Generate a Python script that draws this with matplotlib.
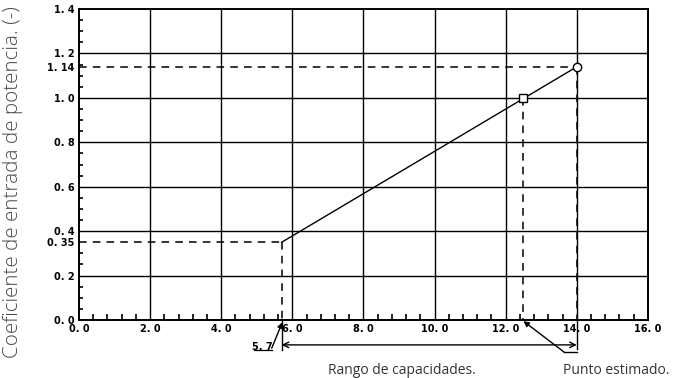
import matplotlib.pyplot as plt
from matplotlib.ticker import MultipleLocator

# datos del grafico
x_ticks = [0, 2, 4, 6, 8, 10, 12, 14, 16]
x_labels = ['0. 0', '2. 0', '4. 0', '6. 0', '8. 0', '10. 0', '12. 0', '14. 0', '16. 0']
y_ticks = [0.0, 0.2, 0.35, 0.4, 0.6, 0.8, 1.0, 1.14, 1.2, 1.4]
y_labels = ['0. 0', '0. 2', '0. 35', '0. 4', '0. 6', '0. 8', '1. 0', '1. 14', '1. 2', '1. 4']

linea_x = [5.7, 14.0]
linea_y = [0.35, 1.14]
punto_est_x = 12.5
punto_est_y = 1.0
x_min_cap = 5.7
x_max_cap = 14.0

fig = plt.figure(figsize=(6.74, 3.78), dpi=100)
ax = fig.add_axes([0.1172, 0.1534, 0.844, 0.8226])

ax.set_xlim(0, 16)
ax.set_ylim(0, 1.4)

# rejilla
for gx in range(2, 16, 2):
    ax.axvline(gx, color='black', lw=1.0, zorder=1)
for gy in [0.2, 0.4, 0.6, 0.8, 1.0, 1.2]:
    ax.axhline(gy, color='black', lw=1.0, zorder=1)

for s in ax.spines.values():
    s.set_linewidth(1.4)

ax.set_xticks(x_ticks)
ax.set_xticklabels(x_labels)
ax.set_yticks(y_ticks)
ax.set_yticklabels(y_labels)
ax.xaxis.set_minor_locator(MultipleLocator(0.4))
ax.yaxis.set_minor_locator(MultipleLocator(0.05))
ax.tick_params(which='major', length=0, labelsize=7, pad=3)
ax.tick_params(which='minor', direction='in', length=4, width=1.2)
ax.tick_params(axis='y', which='minor', length=3)
for lab in ax.get_xticklabels() + ax.get_yticklabels():
    lab.set_fontweight('bold')
    lab.set_fontfamily('DejaVu Sans')

# linea principal y puntos
ax.plot(linea_x, linea_y, color='black', lw=1.0, zorder=3)
ax.plot([punto_est_x], [punto_est_y], marker='s', ms=6, mfc='white', mec='black', mew=1.0, zorder=4)
ax.plot([linea_x[1]], [linea_y[1]], marker='o', ms=6, mfc='white', mec='black', mew=1.0, zorder=4)

# lineas discontinuas
dash = dict(color='black', lw=1.1, ls=(0, (5, 4)), zorder=2, clip_on=False)
ax.plot([0, linea_x[1]], [linea_y[1], linea_y[1]], **dash)
ax.plot([0, linea_x[0]], [linea_y[0], linea_y[0]], **dash)
ax.plot([linea_x[0], linea_x[0]], [linea_y[0], 0], **dash)
ax.plot([linea_x[1], linea_x[1]], [linea_y[1], 0], **dash)
ax.plot([punto_est_x, punto_est_x], [punto_est_y, 0], **dash)

# anotaciones bajo el eje
ax.plot([x_min_cap, x_min_cap], [0, -0.135], color='black', lw=1.0, clip_on=False)
ax.plot([x_max_cap, x_max_cap], [0, -0.13], color='black', lw=1.0, clip_on=False)
ax.annotate('', xy=(x_min_cap, -0.112), xytext=(x_max_cap, -0.112),
            arrowprops=dict(arrowstyle='<->', color='black', lw=1.0, shrinkA=0, shrinkB=0),
            annotation_clip=False)

ax.annotate('', xy=(5.72, -0.01), xytext=(5.42, -0.127),
            arrowprops=dict(arrowstyle='-|>', color='black', lw=1.0, shrinkA=0, shrinkB=0,
                            mutation_scale=8),
            annotation_clip=False)
ax.text(5.15, -0.12, '5. 7', fontsize=7, fontweight='bold', ha='center', va='center',
        family='DejaVu Sans')
ax.plot([4.92, 5.42], [-0.135, -0.135], color='black', lw=0.9, clip_on=False)

ax.annotate('', xy=(punto_est_x, -0.005), xytext=(13.65, -0.145),
            arrowprops=dict(arrowstyle='-|>', color='black', lw=1.0, shrinkA=0, shrinkB=0,
                            mutation_scale=8),
            annotation_clip=False)
ax.plot([13.65, 14.0], [-0.145, -0.145], color='black', lw=1.0, clip_on=False)

fig.text(402 / 674, 1 - 370 / 378, 'Rango de capacidades.', fontsize=10, family='Open Sans',
         color='#333333', ha='center', va='center')
fig.text(616 / 674, 1 - 370 / 378, 'Punto estimado.', fontsize=10, family='Open Sans',
         color='#333333', ha='center', va='center')
fig.text(13 / 674, 1 - 182 / 378, 'Coeficiente de entrada de potencia. (-)', fontsize=14.8,
         family='Open Sans', fontweight='light', color='#4a4a4a', rotation=90,
         ha='center', va='center')

fig.savefig('out.png', dpi=100)
